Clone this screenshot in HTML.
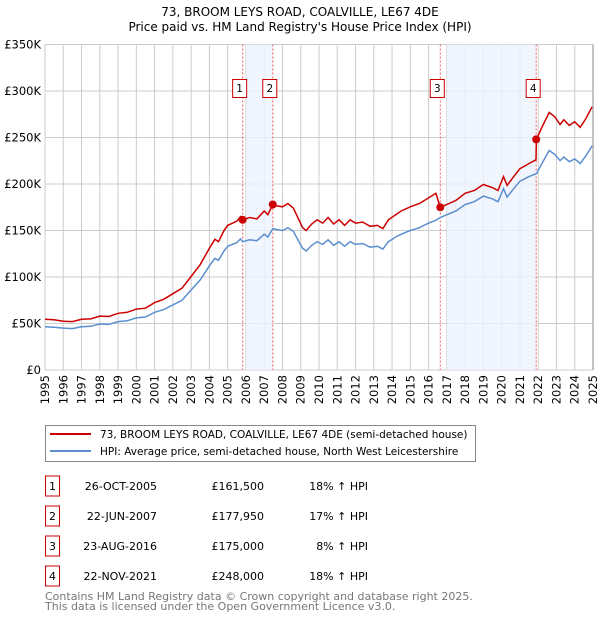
<!DOCTYPE html>
<html><head><meta charset="utf-8"><style>
body{margin:0;background:#fff;font-family:"DejaVu Sans","Liberation Sans",sans-serif;}
svg text{font-family:"DejaVu Sans","Liberation Sans",sans-serif;}
</style></head><body>
<svg id="c" width="600" height="620" xmlns="http://www.w3.org/2000/svg">
<text x="300" y="16" text-anchor="middle" font-size="12">73, BROOM LEYS ROAD, COALVILLE, LE67 4DE</text>
<text x="300" y="31" text-anchor="middle" font-size="12">Price paid vs. HM Land Registry's House Price Index (HPI)</text>
<g id="grid"></g><g id="shade"></g><g id="lines"></g><g id="marks"></g><g id="axes"></g>
<g>
<rect x="45.5" y="425.5" width="430" height="36" fill="#fff" stroke="#888"/>
<line x1="50" y1="434" x2="91" y2="434" stroke="#cc0000" stroke-width="2"/>
<text x="100" y="438" font-size="10.5">73, BROOM LEYS ROAD, COALVILLE, LE67 4DE (semi-detached house)</text>
<line x1="50" y1="451" x2="91" y2="451" stroke="#5b8fd0" stroke-width="2"/>
<text x="100" y="455" font-size="10.5">HPI: Average price, semi-detached house, North West Leicestershire</text>
</g>
<g id="table"></g>
<text x="45" y="600" font-size="11" fill="#777">Contains HM Land Registry data © Crown copyright and database right 2025.</text>
<text x="45" y="610" font-size="11" fill="#777">This data is licensed under the Open Government Licence v3.0.</text>
</svg>
<script>
const dates=[1995,1995.5,1996,1996.5,1997,1997.5,1998,1998.5,1999,1999.5,2000,2000.5,2001,2001.5,2002,2002.5,2003,2003.5,2004,2004.3,2004.5,2004.8,2005,2005.5,2005.7,2005.82,2006.2,2006.6,2007,2007.2,2007.47,2007.7,2008,2008.3,2008.6,2008.9,2009.1,2009.3,2009.6,2009.9,2010.2,2010.5,2010.8,2011.1,2011.4,2011.7,2012,2012.4,2012.8,2013.2,2013.5,2013.8,2014.2,2014.5,2015,2015.5,2016,2016.4,2016.64,2017,2017.5,2018,2018.5,2019,2019.5,2019.8,2020.1,2020.3,2020.7,2021,2021.5,2021.88,2021.9,2022.2,2022.6,2022.9,2023.2,2023.4,2023.7,2024,2024.3,2024.6,2024.95];
const hpi=[46.6,46,45,44.5,46.5,47,49.5,49,52,53,56,57,62,65,70,75,86,97,112,120,118,128,133,137,141,138,140,139,146,143,152,151,150,153,149,138,131,128,134,138,135,140,134,138,133,138,135,136,132,133,130,138,143,146,150,153,158,161,164,167,171,178,181,187,184,181,195,186,196,203,208,211,211,222,236,232,225,229,224,227,222,230,241];
const price=[54.5,54,52.5,52,54.5,55,58,57.5,61,62,65.5,66.5,72.5,76,82,88,100.5,113.5,131,140.5,138,150,155.5,160,165,161.5,164,162.5,171,167,178,176.5,175.5,179,174,161.5,153,150,157,161.5,158,164,157,161.5,155.5,161.5,158,159,154.5,155.5,152,161.5,167,171,175.5,179,185,190,175,178,182.5,190,193,199.5,196,193,208,198.5,209,216.5,222,226,248,261,277,272.5,264,269,263,267,261,270,283];
const saleDates=[2005.82,2007.47,2016.64,2021.89];
const saleValues=[161.5,177.95,175,248];
const saleLabels=["1","2","3","4"];
const saleDateText=["26-OCT-2005","22-JUN-2007","23-AUG-2016","22-NOV-2021"];
const salePriceText=["£161,500","£177,950","£175,000","£248,000"];
const saleHpiText=["18% ↑ HPI","17% ↑ HPI","8% ↑ HPI","18% ↑ HPI"];
const yTicks=[0,50,100,150,200,250,300,350];
const yTickLabels=["£0","£50K","£100K","£150K","£200K","£250K","£300K","£350K"];
const years=[];for(let y=1995;y<=2025;y++)years.push(y);

const X0=45,X1=593,Y0=370,Y1=44.5;
const xs=d=>X0+(d-1995)/30*(X1-X0);
const ys=v=>Y0-v/350*(Y0-Y1);
const NS="http://www.w3.org/2000/svg";
function mk(p,t,a){const e=document.createElementNS(NS,t);for(const k in a)e.setAttribute(k,a[k]);p.appendChild(e);return e;}
const G=id=>document.getElementById(id);

years.forEach(y=>{const l=mk(G('grid'),'line',{x1:xs(y),x2:xs(y),y1:Y1,y2:Y0,stroke:'#ccc','stroke-width':1});

});
yTicks.forEach(v=>{const l=mk(G('grid'),'line',{x1:X0,x2:X1,y1:ys(v),y2:ys(v),stroke:'#ccc','stroke-width':1});

});
[[0,1],[2,3]].forEach(([a,b])=>{const s=Math.ceil(saleDates[a]);const r=mk(G('shade'),'rect',{x:xs(s),y:Y1,width:xs(saleDates[b])-xs(s),height:Y0-Y1,fill:'#eef3fc',opacity:0.8});

});
saleDates.forEach((d,i)=>{const l=mk(G('shade'),'line',{x1:xs(d),x2:xs(d),y1:Y1,y2:Y0,stroke:'#f06060','stroke-width':1,'stroke-dasharray':'2,2'});


const g=mk(G('marks'),'g',{});


mk(g,'rect',{x:xs(d)-10,y:79.5,width:14,height:18,fill:'#fff',stroke:'#cc0000'});
mk(g,'text',{x:xs(d)-3,y:92,'text-anchor':'middle','font-size':10.5}).textContent=saleLabels[i];});
const pts=arr=>arr.map((v,i)=>xs(dates[i]).toFixed(1)+','+ys(v).toFixed(1)).join(' ');
const hl=mk(G('lines'),'polyline',{points:pts(hpi),fill:'none',stroke:'#5b8fd0','stroke-width':1.5});


const pl=mk(G('lines'),'polyline',{points:pts(price),fill:'none',stroke:'#cc0000','stroke-width':1.5});


saleDates.forEach((d,i)=>{const c=mk(G('marks'),'circle',{cx:xs(d),cy:ys(saleValues[i]),r:4,fill:'#cc0000'});

});
mk(G('axes'),'line',{x1:X1,x2:X1,y1:Y1,y2:Y0,stroke:'#888','stroke-width':1});
yTicks.forEach((v,i)=>{const t=mk(G('axes'),'text',{x:X0-4,y:ys(v)+4,'text-anchor':'end','font-size':11.5});


t.textContent=yTickLabels[i];});
years.forEach(y=>{const t=mk(G('axes'),'text',{x:0,y:0,'text-anchor':'end','font-size':11.5,transform:`translate(${xs(y)+4},375) rotate(-90)`});


t.textContent=y;});
saleLabels.forEach((s,i)=>{const cy=486+i*30;const g=mk(G('table'),'g',{});


mk(g,'rect',{x:45.5,y:cy-10,width:14,height:20,fill:'#fff',stroke:'#cc0000'});
mk(g,'text',{x:52.5,y:cy+4,'text-anchor':'middle','font-size':11}).textContent=s;
mk(g,'text',{x:157,y:cy+4,'text-anchor':'end','font-size':11}).textContent=saleDateText[i];
mk(g,'text',{x:264,y:cy+4,'text-anchor':'end','font-size':11}).textContent=salePriceText[i];
mk(g,'text',{x:368,y:cy+4,'text-anchor':'end','font-size':11}).textContent=saleHpiText[i];});
</script>
</body></html>
